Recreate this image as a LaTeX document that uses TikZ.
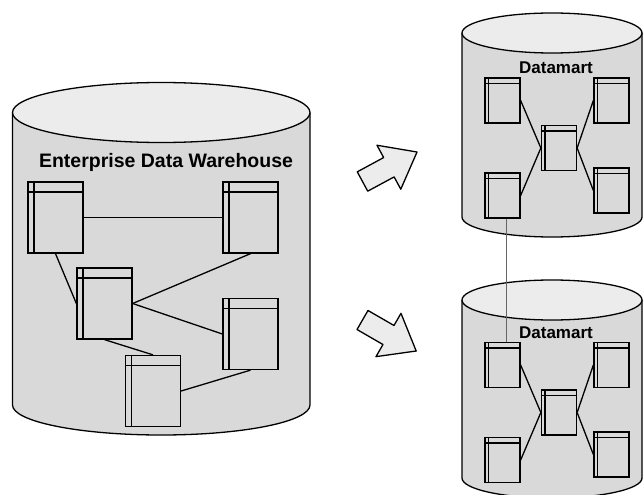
\documentclass[tikz,border=0pt]{standalone}
\usepackage{fontspec}
\usepackage{tikz}
\usetikzlibrary{positioning, calc}
\newfontfamily\lblfont{Liberation Sans}
\definecolor{dbbody}{gray}{0.85}
\definecolor{dbtop}{gray}{0.925}
\tikzset{tbl/.style={draw,line width=1.3pt,inner sep=0pt,minimum width=55pt,minimum height=71pt,
    path picture={
      \draw[line width=1.2pt] ([xshift=6pt]path picture bounding box.north west) -- ([xshift=6pt]path picture bounding box.south west);
      \draw[line width=1.2pt] ([yshift=-10pt]path picture bounding box.north west) -- ([yshift=-10pt]path picture bounding box.north east);}}}
\tikzset{mtbl/.style={draw,line width=1.3pt,inner sep=0pt,minimum width=35pt,minimum height=45pt,
    path picture={
      \draw[line width=1.2pt] ([xshift=3.5pt]path picture bounding box.north west) -- ([xshift=3.5pt]path picture bounding box.south west);
      \draw[line width=1.2pt] ([yshift=-5.5pt]path picture bounding box.north west) -- ([yshift=-5.5pt]path picture bounding box.north east);}}}
\tikzset{link/.style={line width=1.3pt}}
\tikzset{bigarrow/.style={draw,line width=1.3pt,fill=dbtop,line join=round}}
\newcommand{\dbcyl}[5]{% x0, x1, top y, bottom y, y radius
  \filldraw[line width=1.3pt,fill=dbbody] (#1,#3) -- (#1,#4) arc[start angle=180,end angle=360,x radius={(#2-#1)/2},y radius=#5] -- (#2,#3);
  \filldraw[line width=1.3pt,fill=dbtop] ({(#1+#2)/2},#3) ellipse[x radius={(#2-#1)/2},y radius=#5];}

\begin{document}
\begin{tikzpicture}[x=1pt,y=1pt]
\useasboundingbox (0,0) rectangle (643,-495);
% cylinders
\dbcyl{12.5}{310}{-112.5}{-405}{30}
\dbcyl{462}{642}{-33}{-217}{20}
\dbcyl{462}{642}{-300}{-478}{20}

% enterprise warehouse
\node (edw) at (166,-162) {\lblfont\bfseries\fontsize{19.5}{21}\selectfont Enterprise Data Warehouse};
\node [tbl] (t1) at (55.5,-217.5) {};
\node [tbl] (t2) at (250.5,-217.5) {};
\node [tbl] (t3) at (104.5,-303.5) {};
\node [tbl] (t4) at (250.5,-334) {};
\node [tbl] (t5) at (153,-391) {};
\draw [link] (t1.east) -- (t2.west);
\draw [link] (t1.south) -- (t3.west);
\draw [link] (t3.east) -- (t2.south);
\draw [link] (t3.east) -- (t4.west);
\draw [link] (t3.south) -- (t5.north);
\draw [link] (t5.east) -- (t4.south);

% upper datamart
\node (udm) at (556,-68) {\lblfont\bfseries\fontsize{17}{19}\selectfont Datamart};
\node [mtbl] (utl) at (502.5,-100.5) {};
\node [mtbl] (utr) at (611.5,-100.5) {};
\node [mtbl] (uc) at (559,-148) {};
\node [mtbl] (ubl) at (502.5,-195.5) {};
\node [mtbl] (ubr) at (611.5,-190.5) {};
\draw [link] (utl.east) -- (uc.west);
\draw [link] (ubl.east) -- (uc.west);
\draw [link] (utr.west) -- (uc.east);
\draw [link] (ubr.west) -- (uc.east);

% lower datamart
\node (ldm) at (556,-333) {\lblfont\bfseries\fontsize{17}{19}\selectfont Datamart};
\node [mtbl] (ltl) at (502.5,-365) {};
\node [mtbl] (ltr) at (611.5,-365) {};
\node [mtbl] (lc) at (559,-412.5) {};
\node [mtbl] (lbl) at (502.5,-460) {};
\node [mtbl] (lbr) at (611.5,-454.5) {};
\draw [link] (ltl.east) -- (lc.west);
\draw [link] (lbl.east) -- (lc.west);
\draw [link] (ltr.west) -- (lc.east);
\draw [link] (lbr.west) -- (lc.east);

\draw [link,line width=1.6pt,black!60] ([xshift=4pt]ubl.south) -- ([xshift=4pt]ltl.north);

% arrows
\begin{scope}[shift={(362.5,-181.5)},rotate=28.4]
  \draw [bigarrow] (0,-11) -- (30,-11) -- (30,-25) -- (62,0) -- (30,25) -- (30,11) -- (0,11) -- cycle;
\end{scope}
\begin{scope}[shift={(362.5,-320)},rotate=-30]
  \draw [bigarrow] (0,-11) -- (30,-11) -- (30,-25) -- (62,0) -- (30,25) -- (30,11) -- (0,11) -- cycle;
\end{scope}
\end{tikzpicture}
\end{document}
